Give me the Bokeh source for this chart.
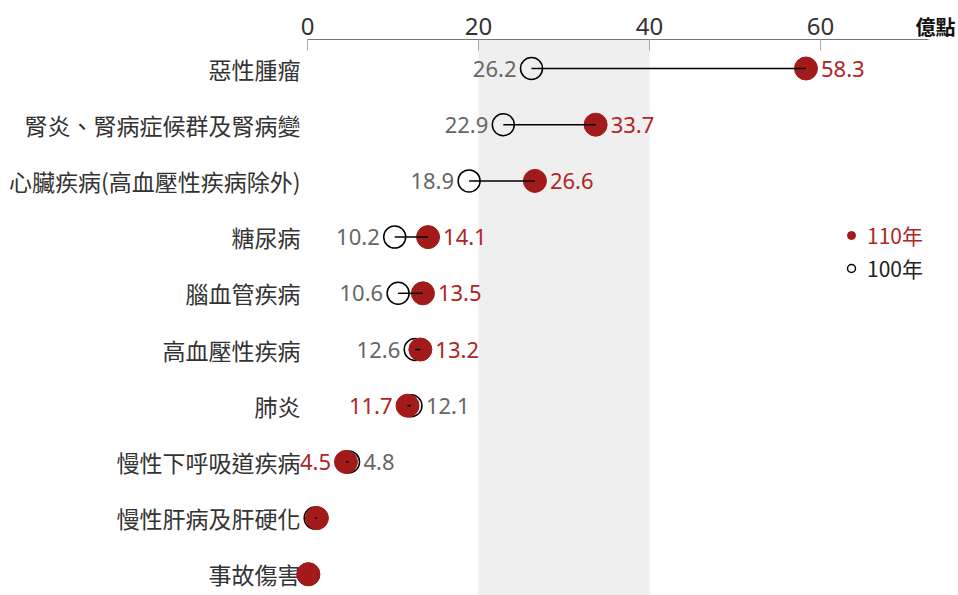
from bokeh.plotting import figure
from bokeh.models import (ColumnDataSource, Range1d, FixedTicker, BoxAnnotation,
                          Label, Legend, LegendItem)
from bokeh.core.properties import value
from bokeh.embed import file_html
from bokeh.resources import INLINE

# ---- data ----
categories = ["惡性腫瘤", "腎炎、腎病症候群及腎病變", "心臟疾病(高血壓性疾病除外)",
              "糖尿病", "腦血管疾病", "高血壓性疾病", "肺炎", "慢性下呼吸道疾病",
              "慢性肝病及肝硬化", "事故傷害"]
values_100 = [26.2, 22.9, 18.9, 10.2, 10.6, 12.6, 12.1, 4.8, 0.9, 0.1]
values_110 = [58.3, 33.7, 26.6, 14.1, 13.5, 13.2, 11.7, 4.5, 1.1, 0.1]
x_ticks = [0, 20, 40, 60]
band_range = [20, 40]
unit_label = "億點"
series_names = ["110年", "100年"]

# ---- styles / layout (pixels) ----
RED = "#a31a1a"
RED_TEXT = "#b02525"
GRAY_TEXT = "#666666"
DARK = "#333333"
CJK = "Noto Sans CJK TC"
NUM = "Noto Sans"

W, H = 958, 595
X0_PX = 307          # pixel of value 0
PX_PER_UNIT = 8.55
AXIS_END_PX = 928
ROW0_PX = 68         # pixel of first row
ROW_PX = 56.2
AXIS_PX = 39         # pixel of the axis line

def xv(px):
    return (px - X0_PX) / PX_PER_UNIT

def yv(px):
    return (px - ROW0_PX) / ROW_PX

idx = list(range(len(categories)))
off = 15
t100, t110, a100, a110, o100, o110 = [], [], [], [], [], []
for a, b in zip(values_100, values_110):
    show = max(a, b) >= 2
    t100.append(f"{a:.1f}" if show else "")
    t110.append(f"{b:.1f}" if show else "")
    if a <= b:
        a100.append("right"); o100.append(-off)
        a110.append("left"); o110.append(off)
    else:
        a100.append("left"); o100.append(off)
        a110.append("right"); o110.append(-off)

src = ColumnDataSource(dict(y=idx, cat=categories, zero=[0] * len(idx),
                            v100=values_100, v110=values_110,
                            t100=t100, t110=t110, a100=a100, a110=a110,
                            o100=o100, o110=o110))

p = figure(width=W, height=H, x_range=Range1d(xv(0), xv(W)),
           y_range=Range1d(yv(H), yv(0)),
           output_backend="svg", toolbar_location=None,
           x_axis_location="above", y_axis_location=None,
           min_border_left=0, min_border_right=0, min_border_top=0,
           min_border_bottom=0)
p.title.visible = False
p.outline_line_color = None
p.grid.visible = False
p.background_fill_color = "white"
p.border_fill_color = "white"

p.add_layout(BoxAnnotation(left=band_range[0], right=band_range[1], top=yv(AXIS_PX),
                           fill_color="#efefef", fill_alpha=1.0, line_color=None,
                           level="underlay"))

xa = p.xaxis[0]
xa.fixed_location = yv(AXIS_PX)
xa.bounds = (0, xv(AXIS_END_PX))
xa.ticker = FixedTicker(ticks=x_ticks)
xa.major_tick_in = 11
xa.major_tick_out = 0
xa.minor_tick_line_color = None
xa.axis_line_color = "#777777"
xa.major_tick_line_color = "#aaaaaa"
xa.major_label_text_font = NUM
xa.major_label_text_font_size = "24px"
xa.major_label_text_color = DARK
xa.major_label_standoff = 5

# category labels
p.text(x="zero", y="y", text="cat", source=src, text_align="right", x_offset=-7,
       text_baseline="middle", text_font=value(CJK), text_font_size="23px",
       text_color=DARK)

r100 = p.scatter(x="v100", y="y", source=src, size=22, fill_color=None,
                 line_color="black", line_width=1.5)
r110 = p.scatter(x="v110", y="y", source=src, size=23, fill_color=RED,
                 line_color=RED, line_width=1)
p.segment(x0="v100", y0="y", x1="v110", y1="y", source=src,
          line_color="black", line_width=1.5)

p.text(x="v100", y="y", text="t100", source=src, text_align="a100", x_offset="o100",
       text_baseline="middle", text_font=value(NUM), text_font_size="22px",
       text_color=GRAY_TEXT)
p.text(x="v110", y="y", text="t110", source=src, text_align="a110", x_offset="o110",
       text_baseline="middle", text_font=value(NUM), text_font_size="22px",
       text_color=RED_TEXT)

p.add_layout(Label(x=xv(915), y=yv(26), text=unit_label,
                   text_baseline="middle", text_align="left", text_font=CJK,
                   text_font_size="20px", text_font_style="bold", text_color="#111111"))

for r, name, col, loc in [(r110, series_names[0], RED_TEXT, (841, H - 250)),
                          (r100, series_names[1], "#222222", (841, H - 283))]:
    lg = Legend(items=[LegendItem(label=name, renderers=[r])], location=loc,
                glyph_width=20, glyph_height=20, label_height=20, label_standoff=6,
                padding=0, margin=0, border_line_color=None, background_fill_alpha=0,
                label_text_font=CJK, label_text_font_size="21px",
                label_text_color=col, label_text_baseline="middle")
    p.add_layout(lg, "center")

open("out.html", "w").write(file_html(p, INLINE))
